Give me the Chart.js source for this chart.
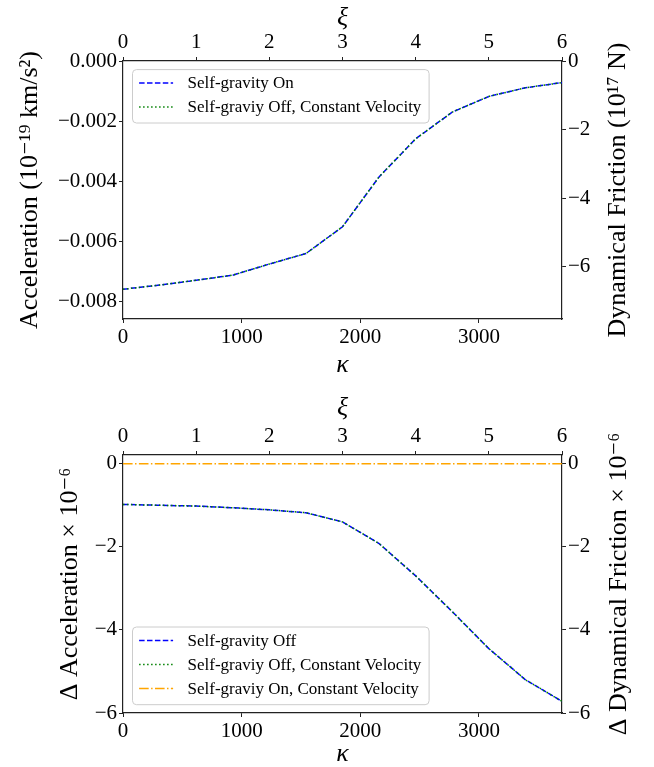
<!DOCTYPE html>
<html>
<head>
<meta charset="utf-8">
<script src="https://cdn.jsdelivr.net/npm/chart.js@4.4.0/dist/chart.umd.min.js"></script>
<style>
  body { margin: 0; background: #fff; }
  .panel { position: absolute; left: 0; width: 654px; }
</style>
</head>
<body>
<div class="panel" style="top:0"><canvas id="topChart" width="654" height="383"></canvas></div>
<div class="panel" style="top:383px"><canvas id="bottomChart" width="654" height="384"></canvas></div>
<script>
// data (kappa on the bottom axis, xi = 0..6 on top)
const kappa = [0, 308, 617, 925, 1233, 1542, 1850, 2158, 2467, 2775, 3083, 3392, 3700];

// top panel: acceleration (1e-19 km/s^2)
const accelSelfGravOn = [-0.00760, -0.00746, -0.00730, -0.00713, -0.00676, -0.00641, -0.00552, -0.00386, -0.00259, -0.00170, -0.00118, -0.00089, -0.00072];
const accelOffConstVel = [-0.00760, -0.00746, -0.00730, -0.00713, -0.00676, -0.00641, -0.00552, -0.00386, -0.00259, -0.00170, -0.00118, -0.00089, -0.00072];

// bottom panel: delta acceleration (x 1e-6)
const dAccelSelfGravOff = [-0.98, -1.00, -1.02, -1.06, -1.11, -1.18, -1.40, -1.92, -2.70, -3.56, -4.45, -5.20, -5.72];
const dAccelOffConstVel = [-0.98, -1.00, -1.02, -1.06, -1.11, -1.18, -1.40, -1.92, -2.70, -3.56, -4.45, -5.20, -5.72];
const dAccelOnConstVel = [0, 0, 0, 0, 0, 0, 0, 0, 0, 0, 0, 0, 0];

// tick labels
const kappaTicks = [0, 1000, 2000, 3000];
const xiTicks = [0, 1, 2, 3, 4, 5, 6];
const accelTicks = [0, -0.002, -0.004, -0.006, -0.008];
const frictionTicks = [0, -2, -4, -6];
const deltaTicks = [0, -2, -4, -6];

const FONT = "'Liberation Serif', 'DejaVu Serif', serif";
const AXIS = '#222';

const minus = s => s.replace('-', '\u2212');

function axis(position, min, max, size, ticks, fmt, title) {
  const horizontal = position === 'top' || position === 'bottom';
  return {
    type: 'linear',
    position: position,
    min: min,
    max: max,
    afterFit: s => { if (horizontal) s.height = size; else s.width = size; },
    afterBuildTicks: s => { s.ticks = ticks.map(v => ({ value: v })); },
    border: { display: true, color: AXIS, width: 1.2 },
    grid: { drawOnChartArea: false, drawTicks: true, tickLength: 4, tickWidth: 1, tickColor: AXIS },
    ticks: {
      font: { family: FONT, size: 21 },
      color: '#000',
      padding: 2,
      maxRotation: 0,
      autoSkip: false,
      callback: fmt
    },
    title: title ? {
      display: true,
      text: title.text,
      color: '#000',
      font: { family: FONT, size: title.size || 26, style: title.italic ? 'italic' : 'normal', lineHeight: 1 },
      padding: title.padding
    } : { display: false }
  };
}

const intFmt = v => minus(String(Math.round(v)));

function series(label, ys, color, dash, order) {
  return {
    label: label,
    data: kappa.map((k, i) => ({ x: k, y: ys[i] })),
    borderColor: color,
    borderWidth: 1.5,
    borderDash: dash,
    pointRadius: 0,
    fill: false,
    tension: 0,
    order: order,
    xAxisID: 'x',
    yAxisID: 'y'
  };
}

// matplotlib-style legend box inside the axes
const boxLegend = {
  id: 'boxLegend',
  afterDraw(chart, args, opts) {
    const ctx = chart.ctx;
    const a = chart.chartArea;
    const sets = chart.data.datasets;
    const rowH = 24;
    const w = 296.6;
    const h = opts.height;
    const left = a.left + 9.5;
    const top = opts.corner === 'upper' ? a.top + 8.6 : a.bottom - 8.3 - h;
    ctx.save();
    ctx.beginPath();
    ctx.roundRect(left, top, w, h, 4);
    ctx.fillStyle = 'rgba(255,255,255,0.8)';
    ctx.fill();
    ctx.strokeStyle = '#cccccc';
    ctx.lineWidth = 1;
    ctx.stroke();
    ctx.font = '17px ' + FONT;
    ctx.textBaseline = 'middle';
    ctx.textAlign = 'left';
    sets.forEach((d, i) => {
      const y = top + 13.4 + i * rowH;
      ctx.beginPath();
      ctx.setLineDash(d.borderDash);
      ctx.strokeStyle = d.borderColor;
      ctx.lineWidth = 1.5;
      ctx.moveTo(left + 6.6, y);
      ctx.lineTo(left + 40.6, y);
      ctx.stroke();
      ctx.setLineDash([]);
      ctx.fillStyle = '#000';
      ctx.fillText(d.label, left + 55, y + 1);
    });
    ctx.restore();
  }
};

// right-hand y label, reading bottom to top like the left one
const rightTitle = {
  id: 'rightTitle',
  afterDraw(chart, args, opts) {
    const ctx = chart.ctx;
    const a = chart.chartArea;
    ctx.save();
    ctx.translate(opts.x, (a.top + a.bottom) / 2);
    ctx.rotate(-Math.PI / 2);
    ctx.font = '26px ' + FONT;
    ctx.fillStyle = '#000';
    ctx.textAlign = 'center';
    ctx.textBaseline = 'middle';
    ctx.fillText(opts.text, 0, 0);
    ctx.restore();
  }
};

const common = {
  responsive: false,
  animation: false,
  devicePixelRatio: 1,
  layout: { padding: 0 },
  events: []
};

new Chart(document.getElementById('topChart'), {
  type: 'line',
  data: {
    datasets: [
      series('Self-gravity On', accelSelfGravOn, '#0000ff', [5.5, 2.4], 1),
      series('Self-graviy Off, Constant Velocity', accelOffConstVel, '#008000', [1.5, 2.5], 0)
    ]
  },
  options: Object.assign({}, common, {
    scales: {
      x: axis('bottom', 0, 3700, 64, kappaTicks, intFmt,
        { text: '\u03ba', italic: true, padding: { top: 0, bottom: 5 } }),
      x2: axis('top', 0, 6, 61, xiTicks, intFmt,
        { text: '\u03be', italic: true, padding: { top: 5, bottom: 0 } }),
      y: axis('left', -0.00859, 0, 123, accelTicks, v => minus(v.toFixed(3)),
        { text: 'Acceleration (10\u207b\u00b9\u2079 km/s\u00b2)', padding: { top: 17, bottom: 0 } }),
      y2: axis('right', -7.52, 0, 92, frictionTicks, intFmt, null)
    },
    plugins: {
      legend: { display: false },
      tooltip: { enabled: false },
      boxLegend: { corner: 'upper', height: 53.4 },
      rightTitle: { x: 618, text: 'Dynamical Friction (10\u00b9\u2077 N)' }
    }
  }),
  plugins: [boxLegend, rightTitle]
});

new Chart(document.getElementById('bottomChart'), {
  type: 'line',
  data: {
    datasets: [
      series('Self-gravity Off', dAccelSelfGravOff, '#0000ff', [5.5, 2.4], 2),
      series('Self-graviy Off, Constant Velocity', dAccelOffConstVel, '#008000', [1.5, 2.5], 1),
      series('Self-graviy On, Constant Velocity', dAccelOnConstVel, '#ffa500', [9.6, 2.4, 1.5, 2.4], 0)
    ]
  },
  options: Object.assign({}, common, {
    scales: {
      x: axis('bottom', 0, 3700, 54, kappaTicks, intFmt,
        { text: '\u03ba', italic: true, padding: { top: 0, bottom: 0 } }),
      x2: axis('top', 0, 6, 72, xiTicks, intFmt,
        { text: '\u03be', italic: true, padding: { top: 12, bottom: 0 } }),
      y: axis('left', -6.0, 0.21, 123, deltaTicks, intFmt,
        { text: '\u0394 Acceleration \u00d7 10\u207b\u2076', padding: { top: 57, bottom: 0 } }),
      y2: axis('right', -6.0, 0.21, 92, deltaTicks, intFmt, null)
    },
    plugins: {
      legend: { display: false },
      tooltip: { enabled: false },
      boxLegend: { corner: 'lower', height: 77.7 },
      rightTitle: { x: 619, text: '\u0394 Dynamical Friction \u00d7 10\u207b\u2076' }
    }
  }),
  plugins: [boxLegend, rightTitle]
});
</script>
</body>
</html>
